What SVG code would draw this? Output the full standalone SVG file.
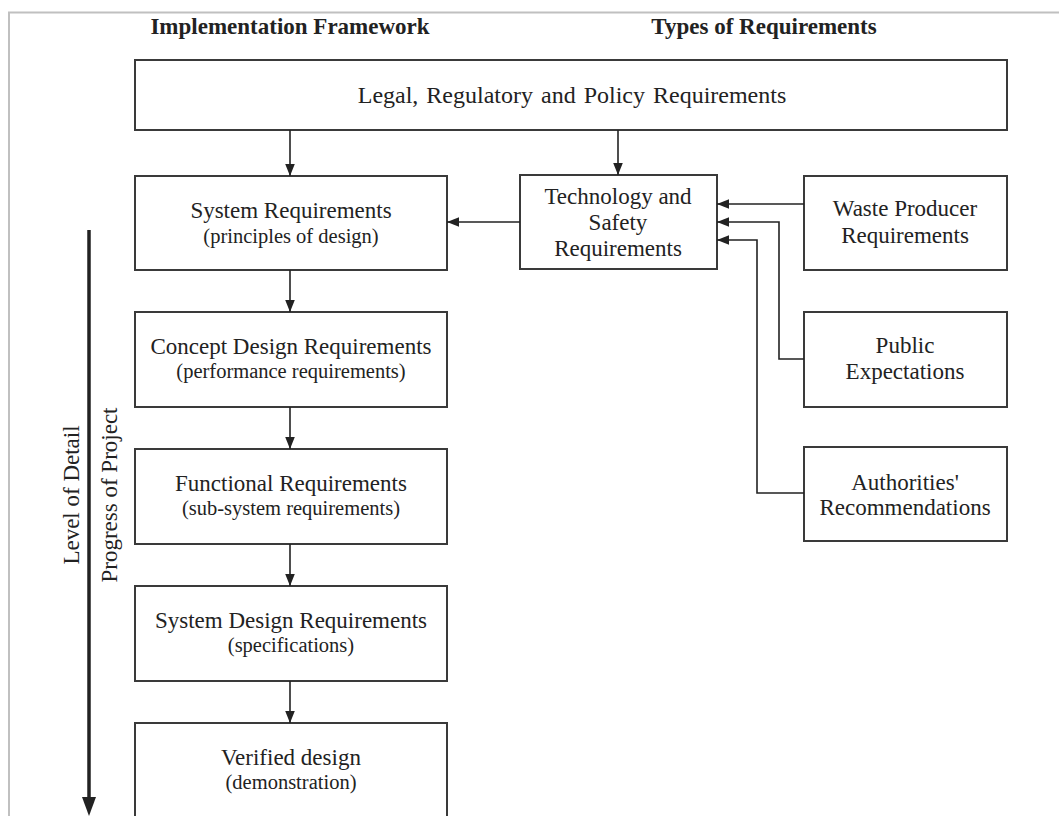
<svg xmlns="http://www.w3.org/2000/svg" width="1059" height="816" viewBox="0 0 1059 816">
<style>
.box{fill:#fff;stroke:#3a3a3a;stroke-width:2}
.t{font-family:"Liberation Serif","Times New Roman",serif;font-size:23px;fill:#222;text-anchor:middle}
.s{font-family:"Liberation Serif","Times New Roman",serif;font-size:20.5px;fill:#222;text-anchor:middle}
.h{font-family:"Liberation Serif","Times New Roman",serif;font-size:23px;font-weight:bold;fill:#222;text-anchor:middle}
.c{fill:none;stroke:#222;stroke-width:1.6}
</style>
<defs>
<marker id="a" viewBox="0 0 10 10" refX="10" refY="5" markerWidth="14" markerHeight="12" markerUnits="userSpaceOnUse" orient="auto"><path d="M0,1 L10,5 L0,9 z" fill="#222"/></marker>
</defs>
<rect x="0" y="0" width="1059" height="816" fill="#fff"/>
<path d="M9,816 V12.5 H1059" fill="none" stroke="#c0c0c0" stroke-width="2"/>
<text class="h" x="290" y="34">Implementation Framework</text>
<text class="h" x="764" y="34">Types of Requirements</text>
<g id="legal"><rect class="box" x="135" y="60" width="872" height="70"/><text class="t" x="572" y="103" style="font-size:24px" word-spacing="2">Legal, Regulatory and Policy Requirements</text></g>
<g id="sysreq"><rect class="box" x="135" y="176" width="312" height="94"/><text class="t" x="291" y="218">System Requirements</text><text class="s" x="291" y="243">(principles of design)</text></g>
<g id="tech"><rect class="box" x="520" y="175" width="197" height="94"/><text class="t" x="618" y="204">Technology and</text><text class="t" x="618" y="230">Safety</text><text class="t" x="618" y="256">Requirements</text></g>
<g id="waste"><rect class="box" x="804" y="176" width="203" height="94"/><text class="t" x="905" y="216">Waste Producer</text><text class="t" x="905" y="243">Requirements</text></g>
<g id="public"><rect class="box" x="804" y="312" width="203" height="95"/><text class="t" x="905" y="353">Public</text><text class="t" x="905" y="379">Expectations</text></g>
<g id="auth"><rect class="box" x="804" y="447" width="203" height="94"/><text class="t" x="905" y="490">Authorities'</text><text class="t" x="905" y="515">Recommendations</text></g>
<g id="concept"><rect class="box" x="135" y="312" width="312" height="95"/><text class="t" x="291" y="354">Concept Design Requirements</text><text class="s" x="291" y="378">(performance requirements)</text></g>
<g id="functional"><rect class="box" x="135" y="449" width="312" height="95"/><text class="t" x="291" y="491">Functional Requirements</text><text class="s" x="291" y="515">(sub-system requirements)</text></g>
<g id="sysdesign"><rect class="box" x="135" y="586" width="312" height="95"/><text class="t" x="291" y="628">System Design Requirements</text><text class="s" x="291" y="652">(specifications)</text></g>
<g id="verified"><rect class="box" x="135" y="723" width="312" height="100"/><text class="t" x="291" y="765">Verified design</text><text class="s" x="291" y="789">(demonstration)</text></g>
<g id="connectors">
<path class="c" d="M290,130 V176" marker-end="url(#a)"/>
<path class="c" d="M618,130 V175" marker-end="url(#a)"/>
<path class="c" d="M520,222 H447" marker-end="url(#a)"/>
<path class="c" d="M804,204 H717" marker-end="url(#a)"/>
<path class="c" d="M804,359 H779 V222 H717" marker-end="url(#a)"/>
<path class="c" d="M804,493 H757 V240 H717" marker-end="url(#a)"/>
<path class="c" d="M290,270 V312" marker-end="url(#a)"/>
<path class="c" d="M290,407 V449" marker-end="url(#a)"/>
<path class="c" d="M290,544 V586" marker-end="url(#a)"/>
<path class="c" d="M290,681 V723" marker-end="url(#a)"/>
<path d="M89,230 V800" fill="none" stroke="#222" stroke-width="3.5"/>
<path d="M82,797 L89,816 L96,797 z" fill="#222"/>
</g>
<text class="t" transform="translate(79,495) rotate(-90)">Level of Detail</text>
<text class="t" transform="translate(117,495) rotate(-90)">Progress of Project</text>
</svg>
